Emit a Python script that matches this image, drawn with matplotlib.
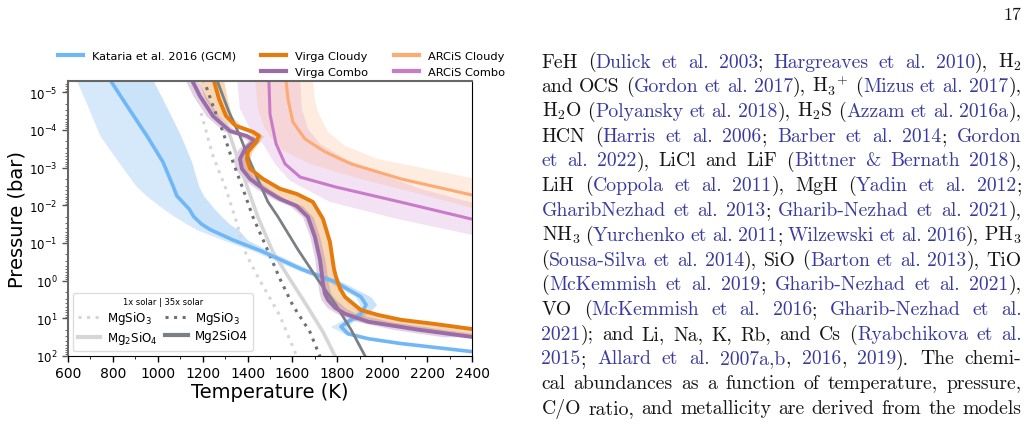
import numpy as np
import matplotlib
matplotlib.use('Agg')
import matplotlib.pyplot as plt
from matplotlib.lines import Line2D

W, H = 1030, 427

# ---- T-P profiles (temperature in K, log10 pressure in bar) ----
# Kataria et al. 2016 GCM
kat_logp = [-5.35, -4.64, -3.84, -3.15, -2.51, -2.25, -1.90, -1.70, -1.50, -1.35, -1.08,
            -0.79, -0.31, 0.03, 0.43, 0.64, 0.88, 1.09, 1.22, 1.41, 1.54, 1.67, 1.88]
kat_t = [785, 863, 952, 1023, 1068, 1085, 1140, 1160, 1195, 1235, 1335,
         1460, 1638, 1789, 1905, 1928, 1905, 1847, 1816, 1847, 1937, 2084, 2395]
kat_lo = [635, 687, 743, 825, 903, 950, 1026, 1075, 1130, 1175, 1290,
          1425, 1610, 1760, 1880, 1900, 1880, 1810, 1770, 1830, 1930, 2075, 2390]
kat_hi = [976, 1037, 1103, 1151, 1182, 1205, 1253, 1285, 1320, 1360, 1400,
          1495, 1670, 1820, 1950, 1975, 1935, 1870, 1840, 1860, 1945, 2095, 2400]

# Virga cloudy
vcl_logp = [-5.35, -4.82, -4.37, -4.11, -3.95, -3.84, -3.68, -3.42, -3.23, -2.97, -2.70,
            -2.44, -2.30, -2.09, -1.64, -1.03, -0.31, -0.10, 0.21, 0.43, 0.61, 0.78,
            0.91, 1.04, 1.15, 1.28]
vcl_t = [1248, 1273, 1304, 1348, 1424, 1451, 1438, 1402, 1397, 1411, 1469,
         1544, 1620, 1691, 1736, 1767, 1785, 1794, 1812, 1834, 1870, 1905,
         1981, 2084, 2235, 2395]
vcl_band_logp = vcl_logp + [1.49]
vcl_lo = [1180, 1210, 1260, 1330, 1400, 1420, 1400, 1370, 1365, 1380, 1420,
          1480, 1520, 1580, 1670, 1705, 1727, 1733, 1745, 1757, 1785, 1815,
          1860, 1910, 2020, 2135, 2395]
vcl_hi = [1292, 1310, 1330, 1370, 1445, 1470, 1450, 1420, 1410, 1420, 1475,
          1550, 1625, 1695, 1740, 1768, 1785, 1794, 1812, 1834, 1870, 1905,
          1981, 2084, 2235, 2395, 2500]

# Virga combo
vcm_logp = [-5.35, -4.90, -4.37, -3.97, -3.84, -3.71, -3.50, -3.23, -2.97, -2.70, -2.44,
            -2.17, -1.98, -1.69, -1.16, -0.55, 0.08, 0.35, 0.51, 0.72, 0.88, 1.09, 1.30, 1.49]
vcm_t = [1150, 1188, 1246, 1322, 1397, 1433, 1389, 1366, 1375, 1411, 1469,
         1544, 1620, 1669, 1700, 1723, 1736, 1745, 1758, 1790, 1834, 1937, 2159, 2395]
vcm_lo = [1120, 1158, 1216, 1292, 1367, 1403, 1359, 1336, 1345, 1381, 1439,
          1514, 1590, 1645, 1678, 1700, 1712, 1720, 1728, 1755, 1800, 1890, 2055, 2270]
vcm_hi = [1176, 1214, 1272, 1348, 1423, 1459, 1415, 1392, 1401, 1437, 1495,
          1570, 1646, 1692, 1722, 1745, 1760, 1772, 1795, 1835, 1885, 2040, 2280, 2520]

# ARCiS cloudy
acl_logp = [-5.35, -4.82, -4.21, -3.76, -3.42, -3.10, -2.70, -2.28]
acl_t = [1571, 1580, 1602, 1656, 1745, 1861, 2084, 2395]
acl_in_logp = [-5.35, -4.56, -4.03, -3.50, -3.10, -2.70, -2.30, -1.90]
acl_in_t = [1433, 1446, 1478, 1544, 1678, 1901, 2168, 2420]
acl_out_logp = [-5.35, -4.82, -4.48, -3.95, -3.58, -3.23, -2.70]
acl_out_t = [1691, 1700, 1714, 1758, 1834, 1981, 2420]

# ARCiS combo
acm_logp = [-5.35, -4.42, -3.63, -3.10, -2.75, -2.49, -2.09, -1.64]
acm_t = [1495, 1500, 1527, 1567, 1634, 1790, 2079, 2395]
acm_in_logp = [-5.35, -4.56, -4.03, -3.63, -3.10, -2.65, -2.09, -1.64, -1.19]
acm_in_t = [1353, 1366, 1411, 1469, 1522, 1589, 1767, 2066, 2420]
acm_out_logp = [-5.35, -4.56, -4.03, -3.63, -3.23, -2.84, -2.44, -2.04]
acm_out_t = [1634, 1642, 1669, 1723, 1834, 1990, 2168, 2420]

# condensation curves
mgsio3_1x_logp = [-4.45, -3.31, -2.43, -1.61, -0.71, -0.10, 0.51, 0.93, 1.89, 2.05]
mgsio3_1x_t = [1193, 1246, 1304, 1348, 1393, 1446, 1504, 1544, 1611, 1618]
mgsio3_35x_logp = [-5.35, -4.64, -3.94, -3.15, -2.43, -1.69, -0.79, -0.05, 0.66, 1.36, 2.05]
mgsio3_35x_t = [1204, 1246, 1291, 1335, 1380, 1424, 1491, 1544, 1602, 1678, 1725]
mg2sio4_1x_logp = [-4.16, -3.23, -2.43, -1.69, -0.76, -0.12, 0.67, 1.36, 2.05]
mg2sio4_1x_t = [1304, 1357, 1402, 1446, 1513, 1580, 1665, 1736, 1794]
mg2sio4_35x_logp = [-5.35, -4.48, -3.84, -3.23, -2.62, -2.09, -1.69, -0.82, -0.02, 0.61, 1.30, 2.05]
mg2sio4_35x_t = [1262, 1317, 1366, 1406, 1451, 1491, 1536, 1625, 1714, 1790, 1861, 1928]

C_KAT = '#6fb7f7'
C_VCL = '#e57b0c'
C_VCM = '#9c6ca8'
C_ACL = '#fdaa74'
C_ACM = '#c97bc9'
C_LG = '#d6d6d6'
C_DG = '#6c7277'
C_DS = '#7b8085'
DOTS = (0, (1, 1.8))


def p(logp):
    return 10 ** np.asarray(logp, dtype=float)


def band_poly(ax, t1, lp1, t2, lp2, color, alpha):
    xs = list(t1) + list(t2)[::-1]
    ys = list(p(lp1)) + list(p(lp2))[::-1]
    ax.fill(xs, ys, color=color, alpha=alpha, lw=0)


fig = plt.figure(figsize=(W / 100, H / 100), dpi=100)
ax = fig.add_axes([68 / W, 1 - 357 / H, 404 / W, 275 / H])

# bands
ax.fill_betweenx(p(kat_logp), kat_lo, kat_hi, color='#5aa9ee', alpha=0.25, lw=0)
ax.fill_betweenx(p(kat_logp), kat_t, kat_hi, color='#5aa9ee', alpha=0.08, lw=0)
band_poly(ax, acm_in_t, acm_in_logp, acm_out_t, acm_out_logp, C_ACM, 0.22)
band_poly(ax, acl_in_t, acl_in_logp, acl_out_t, acl_out_logp, C_ACL, 0.22)
ax.fill_betweenx(p(vcl_band_logp), vcl_lo, vcl_hi, color=C_VCL, alpha=0.3, lw=0)
ax.fill_betweenx(p(vcm_logp), vcm_lo, vcm_hi, color=C_VCM, alpha=0.3, lw=0)

# condensation curves
ax.plot(mgsio3_1x_t, p(mgsio3_1x_logp), color=C_LG, lw=2.2, ls=DOTS)
ax.plot(mgsio3_35x_t, p(mgsio3_35x_logp), color=C_DG, lw=2.2, ls=DOTS)
ax.plot(mg2sio4_1x_t, p(mg2sio4_1x_logp), color=C_LG, lw=2.6)

# profiles
ax.plot(kat_t, p(kat_logp), color=C_KAT, lw=2.6)
ax.plot(mg2sio4_35x_t, p(mg2sio4_35x_logp), color=C_DS, lw=2.0)
ax.plot(acl_t, p(acl_logp), color=C_ACL, lw=2.2)
ax.plot(acm_t, p(acm_logp), color=C_ACM, lw=2.2)
ax.plot(vcm_t, p(vcm_logp), color=C_VCM, lw=2.8)
ax.plot(vcl_t, p(vcl_logp), color=C_VCL, lw=2.8)

ax.set_yscale('log')
ax.set_xlim(600, 2400)
ax.set_ylim(1e2, 10 ** -5.3)
ax.set_xticks(np.arange(600, 2401, 200))
ax.set_xticks(np.arange(600, 2401, 100), minor=True)
ax.tick_params(axis='x', labelsize=10, length=4, width=1)
ax.tick_params(axis='x', which='minor', length=2.5)
ax.tick_params(axis='y', labelsize=8.5, length=4, width=1, color='#555555')
ax.tick_params(axis='y', which='minor', length=2.5, color='#555555')
for side in ['left', 'top']:
    ax.spines[side].set_color('#666666')
    ax.spines[side].set_linewidth(1.5)
ax.set_xlabel('Temperature (K)', fontsize=14, labelpad=1)
ax.set_ylabel('Pressure (bar)', fontsize=14, labelpad=2)

# condensation legend
leg_h = [Line2D([], [], color=C_LG, lw=2.2, ls=DOTS),
         Line2D([], [], color=C_LG, lw=3),
         Line2D([], [], color=C_DG, lw=2.2, ls=DOTS),
         Line2D([], [], color=C_DS, lw=3)]
leg_l = ['MgSiO$_3$', 'Mg$_2$SiO$_4$', 'MgSiO$_3$', 'Mg2SiO4']
ax.legend(leg_h, leg_l, ncol=2, loc='lower left', fontsize=8.6,
          title='1x solar | 35x solar', title_fontsize=6,
          columnspacing=0.6, handletextpad=0.6, handlelength=1.9,
          borderaxespad=0.4, labelspacing=0.25, framealpha=1, edgecolor='#dddddd')

# top legend
top_h = [Line2D([], [], color=C_KAT, lw=3), Line2D([], [], color='none'),
         Line2D([], [], color=C_VCL, lw=3), Line2D([], [], color=C_VCM, lw=3),
         Line2D([], [], color=C_ACL, lw=3), Line2D([], [], color=C_ACM, lw=3)]
top_l = ['Kataria et al. 2016 (GCM)', '', 'Virga Cloudy', 'Virga Combo',
         'ARCiS Cloudy', 'ARCiS Combo']
fig.legend(top_h, top_l, ncol=3, loc='upper left', bbox_to_anchor=(50 / W, 1 - 44 / H),
           fontsize=8.2, frameon=False, columnspacing=2.2, handlelength=2.2,
           borderpad=0.2)

# ---- paper text on the right ----
BLUE = '#3a3a9e'
BLACK = '#151515'
FS = 14.2
TEXT_L, TEXT_R = 541.5, 1021.5
BASE0, LEAD = 67.5, 24.75

paragraph = [
    [('FeH (', 'k'), ('Dulick et al. 2003', 'b'), ('; ', 'k'), ('Hargreaves et al. 2010', 'b'), ('), H$_\\mathrm{2}$', 'k')],
    [('and OCS (', 'k'), ('Gordon et al. 2017', 'b'), ('), H$_\\mathrm{3}{}^{+}$ (', 'k'), ('Mizus et al. 2017', 'b'), ('),', 'k')],
    [('H$_\\mathrm{2}$O (', 'k'), ('Polyansky et al. 2018', 'b'), ('), H$_\\mathrm{2}$S (', 'k'), ('Azzam et al. 2016a', 'b'), ('),', 'k')],
    [('HCN (', 'k'), ('Harris et al. 2006', 'b'), ('; ', 'k'), ('Barber et al. 2014', 'b'), ('; ', 'k'), ('Gordon', 'b')],
    [('et al. 2022', 'b'), ('), LiCl and LiF (', 'k'), ('Bittner & Bernath 2018', 'b'), ('),', 'k')],
    [('LiH (', 'k'), ('Coppola et al. 2011', 'b'), ('), MgH (', 'k'), ('Yadin et al. 2012', 'b'), (';', 'k')],
    [('GharibNezhad et al. 2013', 'b'), ('; ', 'k'), ('Gharib-Nezhad et al. 2021', 'b'), ('),', 'k')],
    [('NH$_\\mathrm{3}$ (', 'k'), ('Yurchenko et al. 2011', 'b'), ('; ', 'k'), ('Wilzewski et al. 2016', 'b'), ('), PH$_\\mathrm{3}$', 'k')],
    [('(', 'k'), ('Sousa-Silva et al. 2014', 'b'), ('), SiO (', 'k'), ('Barton et al. 2013', 'b'), ('), TiO', 'k')],
    [('(', 'k'), ('McKemmish et al. 2019', 'b'), ('; ', 'k'), ('Gharib-Nezhad et al. 2021', 'b'), ('),', 'k')],
    [('VO (', 'k'), ('McKemmish et al. 2016', 'b'), ('; ', 'k'), ('Gharib-Nezhad et al.', 'b')],
    [('2021', 'b'), ('); and Li, Na, K, Rb, and Cs (', 'k'), ('Ryabchikova et al.', 'b')],
    [('2015', 'b'), ('; ', 'k'), ('Allard et al. 2007a,b', 'b'), (', ', 'k'), ('2016', 'b'), (', ', 'k'), ('2019', 'b'), (').  The chemi-', 'k')],
    [('cal abundances as a function of temperature, pressure,', 'k')],
    [('C/O ratio, and metallicity are derived from the models', 'k')],
]

renderer = fig.canvas.get_renderer()


def draw_line(segs, y_px):
    words = [[]]
    for text, c in segs:
        parts = text.split(' ')
        for i, part in enumerate(parts):
            if i > 0:
                words.append([])
            if part:
                words[-1].append((part, BLUE if c == 'b' else BLACK))
    words = [w for w in words if w]
    placed = []
    for w in words:
        arts = []
        for part, col in w:
            t = fig.text(0, 1 - y_px / H, part, color=col, fontsize=FS,
                         family='cmr10', math_fontfamily='cm', va='baseline')
            arts.append((t, t.get_window_extent(renderer).width))
        placed.append(arts)
    widths = [sum(wd for _, wd in a) for a in placed]
    gap = (TEXT_R - TEXT_L - sum(widths)) / max(len(placed) - 1, 1)
    x = TEXT_L
    for arts, tot in zip(placed, widths):
        xx = x
        for t, wd in arts:
            t.set_x(xx / W)
            xx += wd
        x += tot + gap


for i, segs in enumerate(paragraph):
    draw_line(segs, BASE0 + i * LEAD)

fig.text(TEXT_R / W, 1 - 20 / H, '17', fontsize=13, family='cmr10',
         color=BLACK, ha='right', va='baseline')

fig.savefig('out.png', dpi=100)
